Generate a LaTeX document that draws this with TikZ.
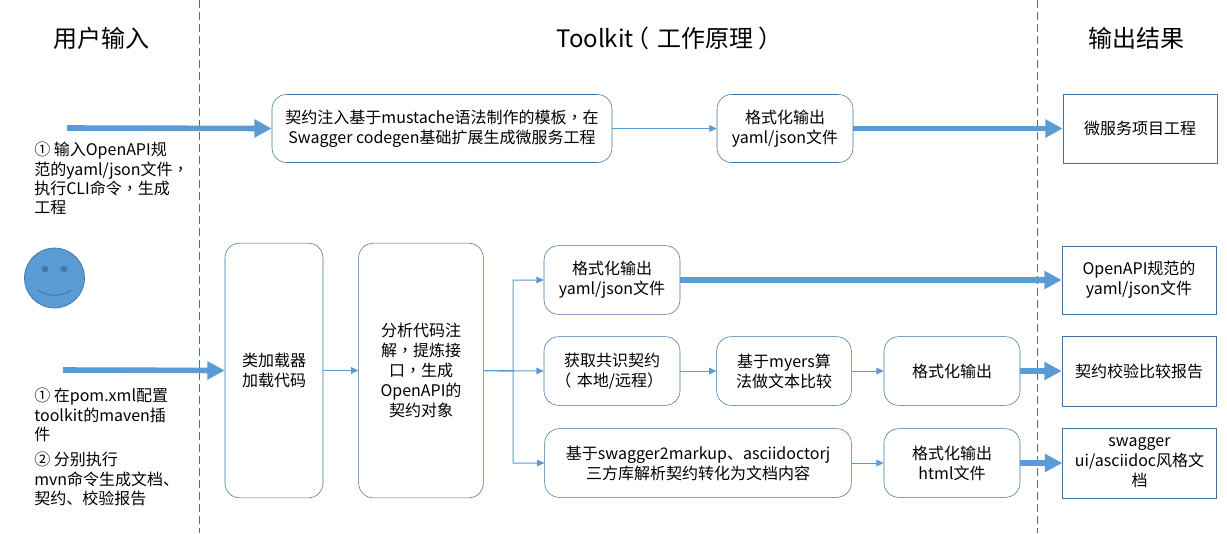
\documentclass[tikz,border=0pt]{standalone}
\usepackage{fontspec}
\setmainfont{Noto Sans CJK SC}
\newfontfamily\tcfont{Noto Sans CJK TC}
\newcommand{\midpunct}[1]{{\tcfont #1}}
\newcommand{\openparen}{\hspace{-0.35em}（\hspace{0.35em}}
\usetikzlibrary{arrows.meta,positioning}
\definecolor{boxline}{HTML}{41719C}
\definecolor{flowblue}{HTML}{5B9BD5}
\tikzset{
  roundbox/.style={draw=boxline, fill=white, rounded corners=11pt, align=center, inner sep=0pt, font=\fontsize{12}{15}\selectfont},
  resultbox/.style={roundbox, sharp corners},
  note/.style={align=left, anchor=north west, inner sep=0pt, font=\fontsize{12}{14.4}\selectfont},
  heading/.style={inner sep=0pt, font=\fontsize{18}{20}\selectfont},
  thinflow/.style={draw=flowblue, line width=0.75pt, -{Triangle[length=5.5pt,width=5pt]}},
  thickflow/.style={draw=flowblue, line width=4.2pt, -{Triangle[length=13pt,width=13pt]}},
  divider/.style={draw=boxline, line width=0.6pt, dash pattern=on 6pt off 3pt}
}
\begin{document}
\begin{tikzpicture}[x=0.75pt, y=-0.75pt]
  \useasboundingbox (0,0) rectangle (1227,533);
  % dividers
  \coordinate (d1t) at (199,0); \coordinate (d1b) at (199,533);
  \coordinate (d2t) at (1037,0); \coordinate (d2b) at (1037,533);
  \draw[divider] (d1t) -- (d1b);
  \draw[divider] (d2t) -- (d2b);
  % headings
  \node [heading] (hInput) at (101,38) {用户输入};
  \node [heading] (hToolkit) at (669.5,38) {Toolkit\openparen 工作原理\hspace{0.2em}）};
  \node [heading] (hOutput) at (1136,38) {输出结果};
  % upper row
  \node [roundbox, minimum width=255pt, minimum height=51pt] (Inject) at (442,128.5) {契约注入基于mustache语法制作的模板\midpunct{，}在\\Swagger codegen基础扩展生成微服务工程};
  \node [roundbox, minimum width=102pt, minimum height=51pt] (FmtA) at (785,128.5) {格式化输出\\yaml/json文件};
  \node [resultbox, minimum width=115.5pt, minimum height=51.75pt] (Project) at (1140,128.5) {微服务项目工程};
  % lower blocks
  \node [roundbox, minimum width=73.5pt, minimum height=191pt] (Loader) at (274,370.5) {类加载器\\加载代码};
  \node [roundbox, minimum width=93.5pt, minimum height=191pt] (Parse) at (421,370.5) {分析代码注\\解\midpunct{，}提炼接\\口\midpunct{，}生成\\OpenAPI的\\契约对象};
  \node [roundbox, minimum width=102pt, minimum height=51.5pt] (FmtB) at (612,280) {格式化输出\\yaml/json文件};
  \node [roundbox, minimum width=102pt, minimum height=51.5pt] (Fetch) at (612,371) {获取共识契约\\\openparen 本地/远程）};
  \node [roundbox, minimum width=101pt, minimum height=51.5pt] (Myers) at (784,371) {基于myers算\\法做文本比较};
  \node [roundbox, minimum width=102pt, minimum height=51.5pt] (FmtC) at (952,371) {格式化输出};
  \node [roundbox, minimum width=230pt, minimum height=51.5pt] (Markup) at (698,463) {基于swagger2markup、asciidoctorj\\三方库解析契约转化为文档内容};
  \node [roundbox, minimum width=102pt, minimum height=51.5pt] (FmtD) at (952,463) {格式化输出\\html文件};
  \node [resultbox, minimum width=115.5pt, minimum height=51pt] (Spec) at (1139,280) {OpenAPI规范的\\yaml/json文件};
  \node [resultbox, minimum width=115.5pt, minimum height=52.5pt] (Report) at (1139,371) {契约校验比较报告};
  \node [resultbox, minimum width=115.5pt, minimum height=52.5pt] (Docs) at (1139.5,463) {swagger\\ui/asciidoc风格文\\档};
  % notes
  \node [note] (NoteA) at (34,142) {① 输入OpenAPI规\\范的yaml/json文件\midpunct{，}\\执行CLI命令\midpunct{，}生成\\工程};
  \node [note] (NoteB) at (34,388) {① 在pom.xml配置\\toolkit的maven插\\件};
  \node [note] (NoteC) at (34,452) {② 分别执行\\mvn命令生成文档、\\契约、校验报告};
  % face
  \node [circle, draw=boxline, fill=flowblue, line width=0.5pt, minimum size=45pt, inner sep=0pt] (Face) at (54.5,278) {};
  \fill[boxline!80!flowblue] (45,269) circle (2.6pt) (64,269) circle (2.6pt);
  \draw[boxline, line width=0.6pt] (38,290) .. controls (47,297) and (62,297) .. (71,290);
  % free ends
  \coordinate (startA) at (67,128);
  \coordinate (startB) at (63,370);
  % thick arrows
  \draw[thickflow] (startA) -- (Inject.west);
  \draw[thickflow] (startB) -- (Loader.west);
  \draw[thickflow] (FmtA) -- (Project);
  \draw[thickflow] (FmtB.east) -- (Spec.west);
  \draw[thickflow] (FmtC) -- (Report);
  \draw[thickflow] (FmtD) -- (Docs);
  % thin arrows
  \draw[thinflow] (Inject) -- (FmtA);
  \draw[thinflow] (Loader) -- (Parse);
  \draw[thinflow] (Parse.east) -- (513,371) |- (FmtB.west);
  \draw[thinflow] (Parse.east) -- (Fetch.west);
  \draw[thinflow] (Parse.east) -- (513,371) |- (Markup.west);
  \draw[thinflow] (Fetch) -- (Myers);
  \draw[thinflow] (Myers) -- (FmtC);
  \draw[thinflow] (Markup) -- (FmtD);
\end{tikzpicture}
\end{document}
